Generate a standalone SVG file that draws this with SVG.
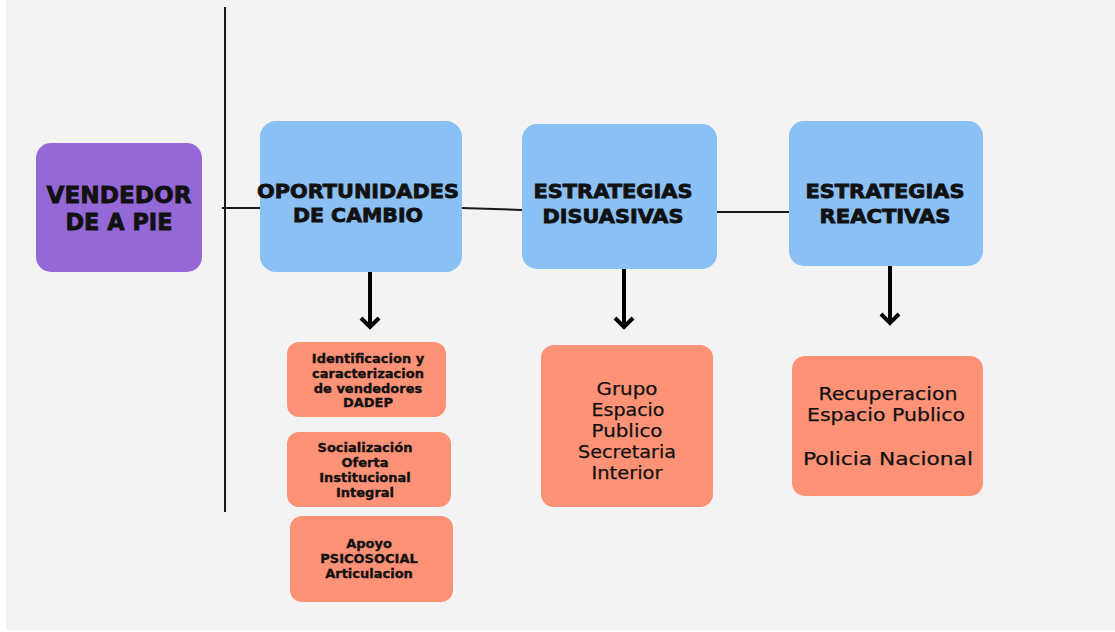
<svg xmlns="http://www.w3.org/2000/svg" width="1115" height="632" viewBox="0 0 1115 632">
<style>
.bg{fill:#f3f3f3}
.blue{fill:#8ac0f4}
.orange{fill:#fe9277}
.purple{fill:#9469d7}
.h{font-family:"DejaVu Sans","Liberation Sans",sans-serif;font-weight:bold;fill:#111;stroke:#111;stroke-width:0.8;text-anchor:middle}
.s{font-family:"DejaVu Sans","Liberation Sans",sans-serif;font-weight:bold;font-size:13px;fill:#111;stroke:#111;stroke-width:0.35;text-anchor:middle}
.r{font-family:"DejaVu Sans","Liberation Sans",sans-serif;font-size:17.5px;fill:#111;stroke:#111;stroke-width:0.25;text-anchor:middle}
.ln{stroke:#1a1a1a;stroke-width:2;fill:none}
.ar{stroke:#000;stroke-width:4;fill:none}
</style>
<rect x="0" y="0" width="1115" height="632" fill="#ffffff"/>
<rect class="bg" x="6" y="0" width="1109" height="630"/>
<g id="connectors">
<line class="ln" x1="225" y1="7" x2="225" y2="512"/>
<line class="ln" x1="222" y1="208" x2="260" y2="208"/>
<line class="ln" x1="462" y1="208" x2="522" y2="210"/>
<line class="ln" x1="717" y1="212" x2="789" y2="212"/>
<path class="ar" d="M370 272V326M361 318L370 327L379 318"/>
<path class="ar" d="M624 269V326M615 318L624 327L633 318"/>
<path class="ar" d="M890 266V322M881 314L890 323L899 314"/>
</g>
<g id="vendedor">
<rect class="purple" x="36" y="143" width="166" height="129" rx="15"/>
<text class="h" x="119" y="203" font-size="23" textLength="145" lengthAdjust="spacingAndGlyphs">VENDEDOR</text>
<text class="h" x="119" y="230" font-size="23" textLength="107" lengthAdjust="spacingAndGlyphs">DE A PIE</text>
</g>
<g id="oportunidades">
<rect class="blue" x="260" y="121" width="202" height="151" rx="16"/>
<text class="h" x="358" y="198" font-size="20" textLength="202" lengthAdjust="spacingAndGlyphs">OPORTUNIDADES</text>
<text class="h" x="358" y="222" font-size="20" textLength="130" lengthAdjust="spacingAndGlyphs">DE CAMBIO</text>
</g>
<g id="disuasivas">
<rect class="blue" x="522" y="124" width="195" height="145" rx="15"/>
<text class="h" x="613" y="198" font-size="19" textLength="159" lengthAdjust="spacingAndGlyphs">ESTRATEGIAS</text>
<text class="h" x="613" y="223" font-size="19" textLength="141" lengthAdjust="spacingAndGlyphs">DISUASIVAS</text>
</g>
<g id="reactivas">
<rect class="blue" x="789" y="121" width="194" height="145" rx="15"/>
<text class="h" x="885" y="198" font-size="19" textLength="159" lengthAdjust="spacingAndGlyphs">ESTRATEGIAS</text>
<text class="h" x="885" y="223" font-size="19" textLength="131" lengthAdjust="spacingAndGlyphs">REACTIVAS</text>
</g>
<g id="identificacion">
<rect class="orange" x="287" y="342" width="159" height="75" rx="12"/>
<text class="s" x="368" y="363">Identificacion y</text>
<text class="s" x="368" y="378">caracterizacion</text>
<text class="s" x="368" y="393">de vendedores</text>
<text class="s" x="368" y="407">DADEP</text>
</g>
<g id="socializacion">
<rect class="orange" x="287" y="432" width="164" height="75" rx="12"/>
<text class="s" x="365" y="452">Socialización</text>
<text class="s" x="365" y="467">Oferta</text>
<text class="s" x="365" y="482">Institucional</text>
<text class="s" x="365" y="497">Integral</text>
</g>
<g id="apoyo">
<rect class="orange" x="290" y="516" width="163" height="86" rx="12"/>
<text class="s" x="369" y="548">Apoyo</text>
<text class="s" x="369" y="563">PSICOSOCIAL</text>
<text class="s" x="369" y="578">Articulacion</text>
</g>
<g id="grupo">
<rect class="orange" x="541" y="345" width="172" height="162" rx="13"/>
<text class="r" x="627" y="395" textLength="61" lengthAdjust="spacingAndGlyphs">Grupo</text>
<text class="r" x="628" y="416" textLength="73" lengthAdjust="spacingAndGlyphs">Espacio</text>
<text class="r" x="627" y="437" textLength="71" lengthAdjust="spacingAndGlyphs">Publico</text>
<text class="r" x="627" y="458" textLength="98" lengthAdjust="spacingAndGlyphs">Secretaria</text>
<text class="r" x="627" y="479" textLength="71" lengthAdjust="spacingAndGlyphs">Interior</text>
</g>
<g id="recuperacion">
<rect class="orange" x="792" y="356" width="191" height="140" rx="13"/>
<text class="r" x="888" y="400" textLength="139" lengthAdjust="spacingAndGlyphs">Recuperacion</text>
<text class="r" x="886" y="421" textLength="158" lengthAdjust="spacingAndGlyphs">Espacio Publico</text>
<text class="r" x="888" y="465" textLength="170" lengthAdjust="spacingAndGlyphs">Policia Nacional</text>
</g>
</svg>
